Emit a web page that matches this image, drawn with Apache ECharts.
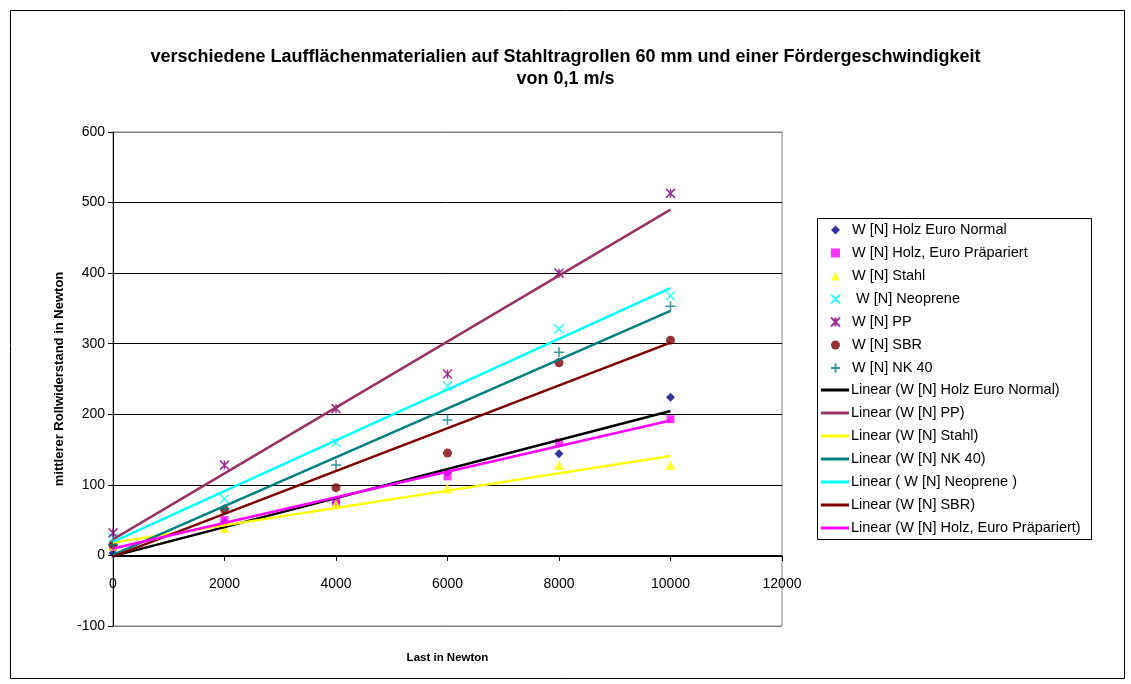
<!DOCTYPE html>
<html><head><meta charset="utf-8">
<script src="https://cdn.jsdelivr.net/npm/echarts@6/dist/echarts.min.js"></script>
<style>html,body{margin:0;padding:0;background:#fff}#c{width:1131px;height:684px}</style>
</head><body><div id="c"></div><script>
// ---- data ----
const loads = [0, 2000, 4000, 6000, 8000, 10000];
const holzNormal = [3, 47, 75, 118, 144, 224];
const holzPraep = [12, 50, 76, 112, 160, 193];
const stahl = [14, 39, 73, 95, 128, 128];
const neoprene = [25, 80, 160, 240, 321, 368];
const pp = [32, 128, 208, 257, 400, 513];
const sbr = [15, 65, 96, 145, 273, 305];
const nk40 = [15, 66, 128, 192, 288, 353];
const xTicks = [0, 2000, 4000, 6000, 8000, 10000, 12000];
const yTicks = [-100, 0, 100, 200, 300, 400, 500, 600];

const titleText = 'verschiedene Laufflächenmaterialien auf Stahltragrollen 60 mm und einer Fördergeschwindigkeit\nvon 0,1 m/s';

const FONT = '"Liberation Sans", Arial, sans-serif';

function pairs(xs, ys) { return xs.map((x, i) => [x, ys[i]]); }
// least-squares trend line (as Excel "Linear" trendline), evaluated at the data range ends
function trend(xs, ys) {
  const n = xs.length;
  const mx = xs.reduce((a, b) => a + b, 0) / n;
  const my = ys.reduce((a, b) => a + b, 0) / n;
  let sxy = 0, sxx = 0;
  for (let i = 0; i < n; i++) { sxy += (xs[i] - mx) * (ys[i] - my); sxx += (xs[i] - mx) ** 2; }
  const b = sxy / sxx, a = my - b * mx;
  const x0 = Math.min(...xs), x1 = Math.max(...xs);
  return [[x0, a + b * x0], [x1, a + b * x1]];
}

const P_X = 'path://M0,0L10,10M10,0L0,10';
const P_AST = 'path://M0,0L10,10M10,0L0,10M5,0L5,10';
const P_PLUS = 'path://M5,0L5,10M0,5L10,5';
const P_LINE = 'path://M0,0H28V3H0Z';

const scatterDefs = [
  { name: 'W [N] Holz Euro Normal', data: holzNormal, symbol: 'diamond', size: 9, color: '#000080' },
  { name: 'W [N] Holz, Euro Präpariert', data: holzPraep, symbol: 'rect', size: 8, color: '#FF00FF' },
  { name: 'W [N] Stahl', data: stahl, symbol: 'triangle', size: 10, color: '#FFFF00' },
  { name: ' W [N] Neoprene', data: neoprene, symbol: P_X, size: 9, color: '#00FFFF', stroke: true },
  { name: 'W [N] PP', data: pp, symbol: P_AST, size: 9, color: '#800080', stroke: true },
  { name: 'W [N] SBR', data: sbr, symbol: 'circle', size: 9, color: '#800000' },
  { name: 'W [N] NK 40', data: nk40, symbol: P_PLUS, size: 10, color: '#008080', stroke: true }
];
const lineDefs = [
  { name: 'Linear (W [N] Holz Euro Normal)', data: holzNormal, color: '#000000' },
  { name: 'Linear (W [N] PP)', data: pp, color: '#993366' },
  { name: 'Linear (W [N] Stahl)', data: stahl, color: '#FFFF00' },
  { name: 'Linear (W [N] NK 40)', data: nk40, color: '#008080' },
  { name: 'Linear ( W [N] Neoprene )', data: neoprene, color: '#00FFFF' },
  { name: 'Linear (W [N] SBR)', data: sbr, color: '#800000' },
  { name: 'Linear (W [N] Holz, Euro Präpariert)', data: holzPraep, color: '#FF00FF' }
];

const series = [];
scatterDefs.forEach(d => {
  series.push({
    type: 'scatter', name: d.name, data: pairs(loads, d.data), xAxisIndex: 0, yAxisIndex: 0,
    symbol: d.symbol, symbolSize: d.size, z: 2,
    itemStyle: d.stroke ? { color: 'rgba(0,0,0,0)', borderColor: d.color, borderWidth: 1.5 } : { color: d.color, borderWidth: 0 }
  });
});
lineDefs.forEach(d => {
  series.push({
    type: 'line', name: d.name, data: trend(loads, d.data), symbol: 'none', z: 3, xAxisIndex: 0, yAxisIndex: 0,
    lineStyle: { color: d.color, width: 2.5 }, itemStyle: { color: d.color }
  });
});

const xMin = xTicks[0], xMax = xTicks[xTicks.length - 1], xStep = xTicks[1] - xTicks[0];
const yMin = yTicks[0], yMax = yTicks[yTicks.length - 1], yStep = yTicks[1] - yTicks[0];
// grid lines: outermost ones are the grey plot-area frame, inner ones black
const gridLineColors = yTicks.map((v, i) => (i === 0 || i === yTicks.length - 1) ? '#808080' : '#000000');

const chart = echarts.init(document.getElementById('c'), null, { renderer: 'canvas' });
chart.setOption({
  animation: false,
  backgroundColor: '#ffffff',
  title: {
    text: titleText, left: 'center', top: 41,
    textStyle: { fontFamily: FONT, fontSize: 18, fontWeight: 'bold', color: '#000', lineHeight: 22 }
  },
  grid: [
    { left: 113, right: 349, top: 132, bottom: 58, show: true, borderColor: '#808080', borderWidth: 1, backgroundColor: '#fff', outerBoundsMode: 'none' },
    { left: 113, right: 349, top: 132, bottom: 128, show: false, outerBoundsMode: 'none' }
  ],
  xAxis: [
    { type: 'value', gridIndex: 0, min: xMin, max: xMax, interval: xStep, show: false },
    {
      type: 'value', gridIndex: 1, min: xMin, max: xMax, interval: xStep,
      name: 'Last in Newton', nameLocation: 'middle', nameGap: 96,
      nameTextStyle: { fontFamily: FONT, fontSize: 11.5, fontWeight: 'bold', color: '#000' },
      axisLine: { onZero: false, lineStyle: { color: '#000', width: 1 } },
      axisTick: { show: true, length: 5, lineStyle: { color: '#000' } },
      axisLabel: { fontFamily: FONT, fontSize: 14, color: '#000', margin: 21, formatter: v => String(v) },
      splitLine: { show: false }
    }
  ],
  yAxis: [
    {
      type: 'value', gridIndex: 0, min: yMin, max: yMax, interval: yStep,
      name: 'mittlerer Rollwiderstand in Newton', nameLocation: 'middle', nameGap: 46,
      nameTextStyle: { fontFamily: FONT, fontSize: 13, fontWeight: 'bold', color: '#000' },
      axisLine: { show: true, onZero: false, lineStyle: { color: '#000', width: 1 } },
      axisTick: { show: true, length: 5, lineStyle: { color: '#000' } },
      axisLabel: { fontFamily: FONT, fontSize: 14, color: '#000', margin: 8 },
      splitLine: { show: true, lineStyle: { color: gridLineColors, width: 1 } }
    },
    { type: 'value', gridIndex: 1, min: 0, max: yMax, show: false }
  ],
  legend: [
    {
      orient: 'vertical', left: 830, top: 222, padding: 0, itemGap: 7,
      itemWidth: 9, itemHeight: 9,
      data: scatterDefs.map(d => d.name),
      textStyle: { fontFamily: FONT, fontSize: 14.5, color: '#000', lineHeight: 16, padding: [0, 0, 0, 7] }
    },
    {
      orient: 'vertical', left: 821, top: 382, padding: 0, itemGap: 7,
      itemWidth: 28, itemHeight: 14,
      data: lineDefs.map(d => ({ name: d.name, icon: P_LINE })),
      textStyle: { fontFamily: FONT, fontSize: 14.5, color: '#000', lineHeight: 16, padding: [0, 0, 0, -3] }
    }
  ],
  graphic: [
    { type: 'rect', left: 8, top: 8, silent: true, z: -10,
      shape: { width: 1114, height: 668 }, style: { fill: 'none', stroke: '#000', lineWidth: 1 } },
    { type: 'rect', left: 817, top: 218, silent: true, z: -10,
      shape: { width: 274, height: 321 }, style: { fill: '#fff', stroke: '#000', lineWidth: 1 } }
  ],
  series: series
});
</script></body></html>
